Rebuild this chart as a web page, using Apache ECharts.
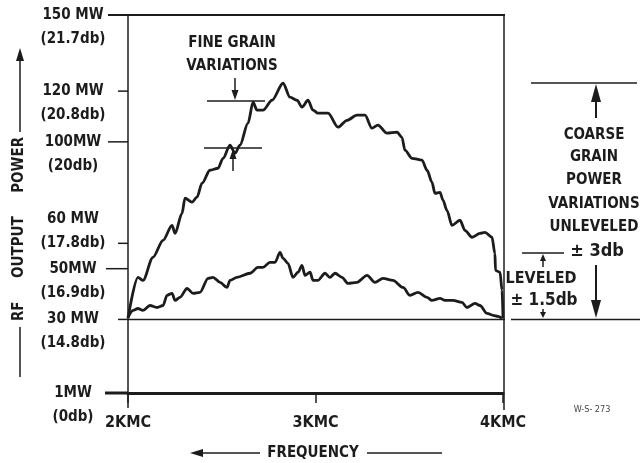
<!DOCTYPE html>
<html><head><meta charset="utf-8">
<script src="https://cdn.jsdelivr.net/npm/echarts@6/dist/echarts.min.js"></script>
<style>html,body{margin:0;padding:0;background:#fff}#c{width:640px;height:463px}</style>
</head><body><div id="c"></div>
<script>
// ---- data (frequency in KMC, power in MW) ----
const unleveledFreq = [2.000,2.053,2.080,2.133,2.187,2.235,2.251,2.288,2.304,2.341,2.368,2.395,2.437,2.480,2.507,2.544,2.571,2.597,2.640,2.667,2.688,2.720,2.768,2.827,2.864,2.901,2.928,2.960,2.987,3.013,3.067,3.120,3.168,3.221,3.264,3.301,3.333,3.381,3.435,3.461,3.477,3.515,3.568,3.595,3.621,3.637,3.664,3.680,3.701,3.728,3.771,3.797,3.835,3.877,3.904,3.941,3.957,3.960,3.984,3.995,4.000];
const unleveledPower = [30.5,46.6,45.4,54.5,61.2,67.1,63.9,71.8,77.8,76.2,78.2,83.7,88.8,89.6,93.5,98.7,95.5,98.7,107.4,115.6,112.5,112.5,116.4,123.1,117.6,116.4,113.7,116.4,112.5,111.3,111.3,105.8,108.5,110.5,110.5,105.4,106.6,103.4,103.8,101.8,96.7,93.5,92.8,88.8,84.1,79.7,80.1,77.0,73.0,67.1,69.1,65.1,62.4,63.9,64.3,62.4,56.0,49.3,48.6,41.4,30.4];
const leveledFreq = [2.000,2.027,2.053,2.080,2.117,2.155,2.187,2.208,2.235,2.251,2.277,2.315,2.347,2.384,2.427,2.453,2.491,2.528,2.544,2.581,2.651,2.693,2.720,2.757,2.784,2.811,2.827,2.853,2.880,2.907,2.928,2.944,2.971,2.987,3.013,3.051,3.077,3.104,3.141,3.173,3.221,3.275,3.317,3.360,3.413,3.467,3.504,3.547,3.595,3.621,3.664,3.691,3.733,3.781,3.808,3.851,3.877,3.915,3.947,3.973,3.995];
const leveledPower = [30.8,33.6,34.3,33.6,35.5,34.7,35.5,39.5,40.3,37.5,38.7,42.2,40.3,40.7,46.2,46.6,44.6,42.6,45.4,46.6,48.2,50.5,50.5,52.5,52.5,56.4,54.1,52.1,46.6,48.6,51.3,47.4,48.6,45.4,45.4,48.2,46.6,48.2,46.6,44.2,44.6,47.4,44.6,46.2,45.4,42.6,39.5,40.7,38.7,37.5,38.3,37.5,37.5,36.7,34.7,36.3,35.5,32.4,31.6,31.2,30.4];
const yTickValues = [1, 30, 50, 60, 100, 120, 150];
const yTickMW = ['1MW', '30 MW', '50MW', '60 MW', '100MW', '120 MW', '150 MW'];
const yTickDb = ['(0db)', '(14.8db)', '(16.9db)', '(17.8db)', '(20db)', '(20.8db)', '(21.7db)'];
const xTickValues = [2, 3, 4];
const xTickLabels = ['2KMC', '3KMC', '4KMC'];

// ---- style ----
const INK = '#1c1c1c';
const FONT = '"Liberation Sans Narrow","DejaVu Sans Condensed",sans-serif';
const tickLen = {1: 23, 30: 10, 50: 22, 60: 10, 100: 20, 120: 10, 150: 20};
const dbOnTick = {60: true}; // label whose db line sits on the tick

const chart = echarts.init(document.getElementById('c'), null, {renderer: 'canvas'});
const zip = (a, b) => a.map((v, i) => [v, b[i]]);

chart.setOption({
  backgroundColor: '#fff',
  animation: false,
  grid: {left: 128, right: 137, top: 15, bottom: 70, containLabel: false, outerBoundsMode: 'none'},
  xAxis: {
    type: 'value', min: 2, max: 4, interval: 1,
    axisLine: {show: true, lineStyle: {color: INK, width: 3}},
    axisTick: {show: true, length: 10, lineStyle: {color: INK, width: 1.5}},
    axisLabel: {
      margin: 22, color: INK, fontFamily: FONT, fontWeight: 'bold', fontSize: 16,
      formatter: v => xTickLabels[xTickValues.indexOf(v)] || ''
    },
    splitLine: {show: false}
  },
  yAxis: {
    type: 'value', min: 1, max: 150,
    axisLine: {show: true, lineStyle: {color: INK, width: 1.5}},
    axisTick: {show: false},
    splitLine: {show: false},
    axisLabel: {
      customValues: yTickValues, showMinLabel: true, showMaxLabel: true,
      margin: 55, align: 'center', verticalAlign: 'middle', lineHeight: 24,
      color: INK, fontFamily: FONT, fontWeight: 'bold', fontSize: 15,
      formatter: v => {
        const i = yTickValues.indexOf(v);
        if (i < 0) return '';
        return dbOnTick[v] ? yTickMW[i] + '\n' + yTickDb[i] + '\n' : '\n' + yTickMW[i] + '\n' + yTickDb[i];
      }
    }
  },
  series: [
    {type: 'line', data: zip(unleveledFreq, unleveledPower), showSymbol: false, smooth: 0.3, smoothMonotone: 'x',
     lineStyle: {color: INK, width: 2.8}},
    {type: 'line', data: zip(leveledFreq, leveledPower), showSymbol: false, smooth: 0.3, smoothMonotone: 'x',
     lineStyle: {color: INK, width: 2.8}}
  ]
});

const P = (x, y) => chart.convertToPixel({gridIndex: 0}, [x, y]);
const L = (x1, y1, x2, y2, w) => ({type: 'line', silent: true, shape: {x1, y1, x2, y2}, style: {stroke: INK, lineWidth: w || 1.5}});
const T = (x, y, text, size, extra) => Object.assign({type: 'text', silent: true, x, y,
  style: {text, font: 'bold ' + size + 'px ' + FONT, fill: INK, align: 'center', verticalAlign: 'middle'}}, extra || {});
const arrow = (x, y, dir, w, h) => { // tip at (x,y)
  w = w || 4; h = h || 12;
  let pts;
  if (dir === 'up') pts = [[x, y], [x - w, y + h], [x + w, y + h]];
  else if (dir === 'down') pts = [[x, y], [x - w, y - h], [x + w, y - h]];
  else pts = [[x, y], [x + h, y - w], [x + h, y + w]];
  return {type: 'polygon', silent: true, shape: {points: pts}, style: {fill: INK}};
};

const [x2, yTop] = P(2, 150);
const [x4, yBot] = P(4, 1);
const g = [];
// frame
g.push(L(x2 - tickLen[150], yTop, x4 + 2, yTop, 2));
g.push(L(x4 + 1, yTop, x4 + 1, yBot + 17, 1.5));
g.push(L(x2, yBot, x2, yBot + 15, 1.5));
// y ticks
yTickValues.forEach(v => {
  const yy = P(2, v)[1];
  g.push(L(x2 - tickLen[v], yy, x2, yy, v === 1 ? 3 : 1.5));
});
// 30 MW reference line
const y30 = P(2, 30)[1];
g.push(L(x2, y30, x4 + 2, y30, 1.5));
g.push(L(x4 + 8, y30, 640, y30, 1.5));

// Y axis title
g.push(T(19, 229, 'RF     OUTPUT     POWER', 15, {rotation: Math.PI / 2}));
g.push(L(20, 132, 20, 58, 1.5)); g.push(arrow(20, 48, 'up', 4, 13));
g.push(L(20, 327, 20, 377, 1.5));

// X axis title
g.push(T(313, 453, 'FREQUENCY', 15));
g.push(L(200, 453, 260, 453, 1.5)); g.push(arrow(190, 453, 'left', 4, 13));
g.push(L(367, 453, 442, 453, 1.5));

// fine grain annotation
g.push(T(232, 43, 'FINE GRAIN', 15));
g.push(T(232, 66, 'VARIATIONS', 15));
g.push(L(207, 101, 265, 101, 1.5));
g.push(L(204, 148, 262, 148, 1.5));
g.push(L(235, 78, 235, 92, 1.5)); g.push(arrow(235, 100, 'down', 3.5, 10));
g.push(L(233, 158, 233, 171, 1.5)); g.push(arrow(233, 149, 'up', 3.5, 10));

// coarse grain annotation
g.push(L(531, 83, 637, 83, 1.5));
g.push(L(596, 95, 596, 118, 2)); g.push(arrow(596, 84, 'up', 5, 18));
['COARSE', 'GRAIN', 'POWER', 'VARIATIONS', 'UNLEVELED'].forEach((t, i) =>
  g.push(T(594, [135, 157, 180, 204, 227][i], t, 15)));
g.push(T(597, 251, '± 3db', 18));
g.push(L(596, 265, 596, 302, 2)); g.push(arrow(596, 318, 'down', 5, 18));

// leveled annotation
g.push(L(522, 253, 564, 253, 1.5));
g.push(L(543, 258, 543, 267, 1.5)); g.push(arrow(543, 254, 'up', 3, 7));
g.push(T(541, 279, 'LEVELED', 16));
g.push(T(544, 301, '± 1.5db', 17));
g.push(L(543, 309, 543, 313, 1.5)); g.push(arrow(543, 318, 'down', 3, 6));

// drawing number
g.push(T(592, 410, 'W-S- 273', 9, {style: {text: 'W-S- 273', font: '9px ' + FONT, fill: '#444', align: 'center', verticalAlign: 'middle'}}));

chart.setOption({graphic: {elements: g}});
</script>
</body></html>
